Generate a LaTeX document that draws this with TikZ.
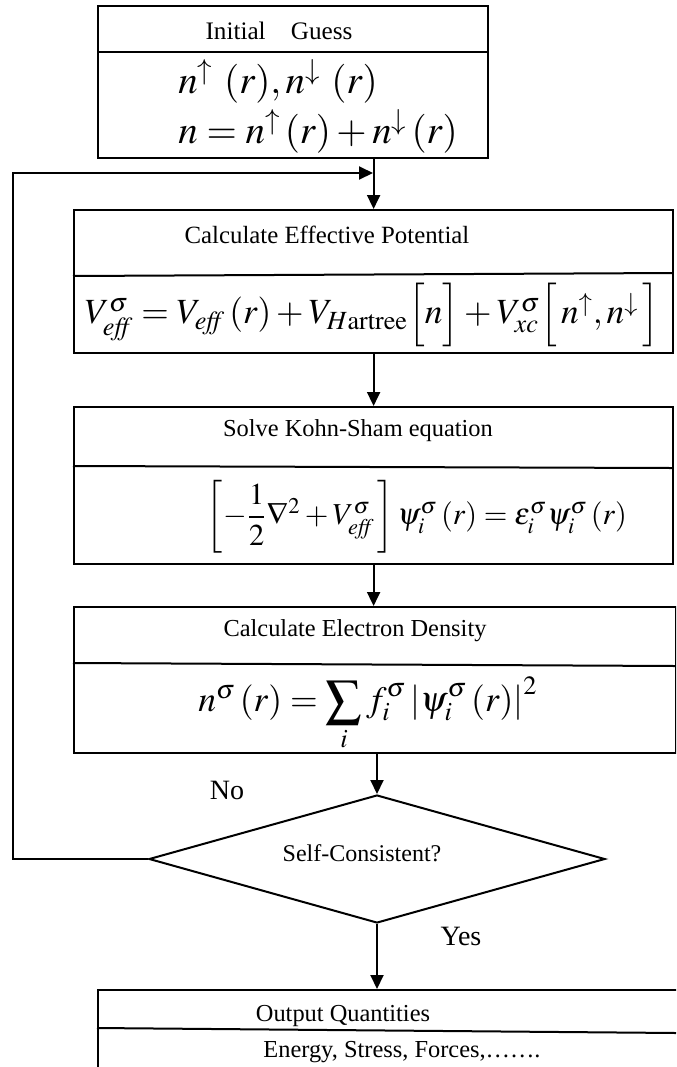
\documentclass[tikz,border=0pt]{standalone}
\usepackage{mathptmx}
\usepackage{amsmath}
\usepackage[no-math]{fontspec}
\setmainfont{Liberation Serif}
\usepackage{tikz}
\usetikzlibrary{arrows.meta,shapes.geometric}

\tikzset{
  box/.style={draw,line width=1.1pt,inner sep=0pt,anchor=north west},
  divider/.style={line width=1pt},
  title/.style={inner sep=0pt,font=\fontsize{12.2}{14}\selectfont},
  eqn/.style={inner sep=0pt,font=\fontsize{16}{19}\selectfont},
  flow/.style={line width=1pt,-{Triangle[length=7pt,width=6.5pt]}},
  answer/.style={inner sep=0pt,font=\fontsize{14}{16}\selectfont},
}

\begin{document}
\begin{tikzpicture}[x=0.5pt,y=-0.5pt]
\useasboundingbox (0,0) rectangle (676,1067);
\clip (0,0) rectangle (676,1067);

\node[box,minimum width=195pt,minimum height=76pt] (ig) at (97,5) {};
\draw[divider] (97,52) -- (487,52);
\node[title,font=\fontsize{12.6}{14}\selectfont] (igt) at (279,31) {Initial\quad Guess};
\node[eqn,anchor=west,font=\fontsize{19.5}{22}\selectfont] (ig1) at (178,81) {$n^{\uparrow}\mkern5mu(r),n^{\downarrow}\mkern5mu(r)$};
\node[eqn,anchor=west,font=\fontsize{19.5}{22}\selectfont] (ig2) at (178,131) {$n=n^{\uparrow}\,(r)+n^{\downarrow}\,(r)$};

\node[box,minimum width=299.5pt,minimum height=71.5pt] (pot) at (73,209) {};
\draw[divider] (73,276) -- (672,273);
\node[title,font=\fontsize{12.4}{14}\selectfont] (pott) at (327,235) {Calculate Effective Potential};
\node[eqn,font=\fontsize{17.7}{21}\selectfont] (pote) at (372,315)
  {$V_{\mathit{eff}}^{\sigma}=V_{\mathit{eff}}\left(r\right)+V_{H\mathrm{artree}}\Bigl[n\Bigr]+V_{xc}^{\sigma}\Bigl[\,n^{\uparrow},n^{\downarrow}\,\Bigr]$};

\node[box,minimum width=299.5pt,minimum height=78.5pt] (ks) at (73,406) {};
\draw[divider] (73,466) -- (672,468);
\node[title] (kst) at (358,431) {Solve Kohn-Sham equation};
\node[eqn,font=\fontsize{15.2}{18}\selectfont] (kse) at (417,517)
  {$\left[-\dfrac{1}{2}\nabla^{2}+V_{\mathit{eff}}^{\sigma}\,\right]\psi_{i}^{\sigma}\left(r\right)=\varepsilon_{i}^{\sigma}\psi_{i}^{\sigma}\left(r\right)$};

\node[box,minimum width=301pt,minimum height=73pt] (ed) at (73,606) {};
\draw[divider] (73,663) -- (675,666);
\node[title] (edt) at (355,631) {Calculate Electron Density};
\node[eqn,font=\fontsize{17.8}{21}\selectfont] (ede) at (368,714)
  {$n^{\sigma}\left(r\right)=\displaystyle\sum_{i}f_{i}^{\sigma}\left|\psi_{i}^{\sigma}\left(r\right)\right|^{2}$};

\node[diamond,draw,line width=1pt,inner sep=0pt,minimum width=228pt,minimum height=64pt] (chk) at (377,859) {};
\node[title,font=\fontsize{12}{14}\selectfont] (chkt) at (362,853) {Self-Consistent?};
\node[answer] (no) at (227,790) {No};
\node[answer] (yes) at (461,936) {Yes};

\node[box,minimum width=300pt,minimum height=60pt] (out) at (97,989) {};
\draw[divider] (97,1028) -- (676,1033);
\node[title] (outt) at (343,1016) {Output Quantities};
\node[title] (oute) at (402,1052) {Energy, Stress, Forces,\ldots\ldots.};

\coordinate (loop) at (13,173);
\coordinate (join) at (373,173);
\draw[flow] (ig.south -| pot.north) -- (pot.north);
\draw[flow] (pot.south) -- (ks.north);
\draw[flow] (ks.south) -- (ks.south |- ed.north);
\draw[flow] (ed.south -| chk.north) -- (chk.north);
\draw[flow] (chk.south) -- (chk.south |- out.north);
\draw[flow] (chk.west) -| (loop) -- (join);
\end{tikzpicture}
\end{document}
